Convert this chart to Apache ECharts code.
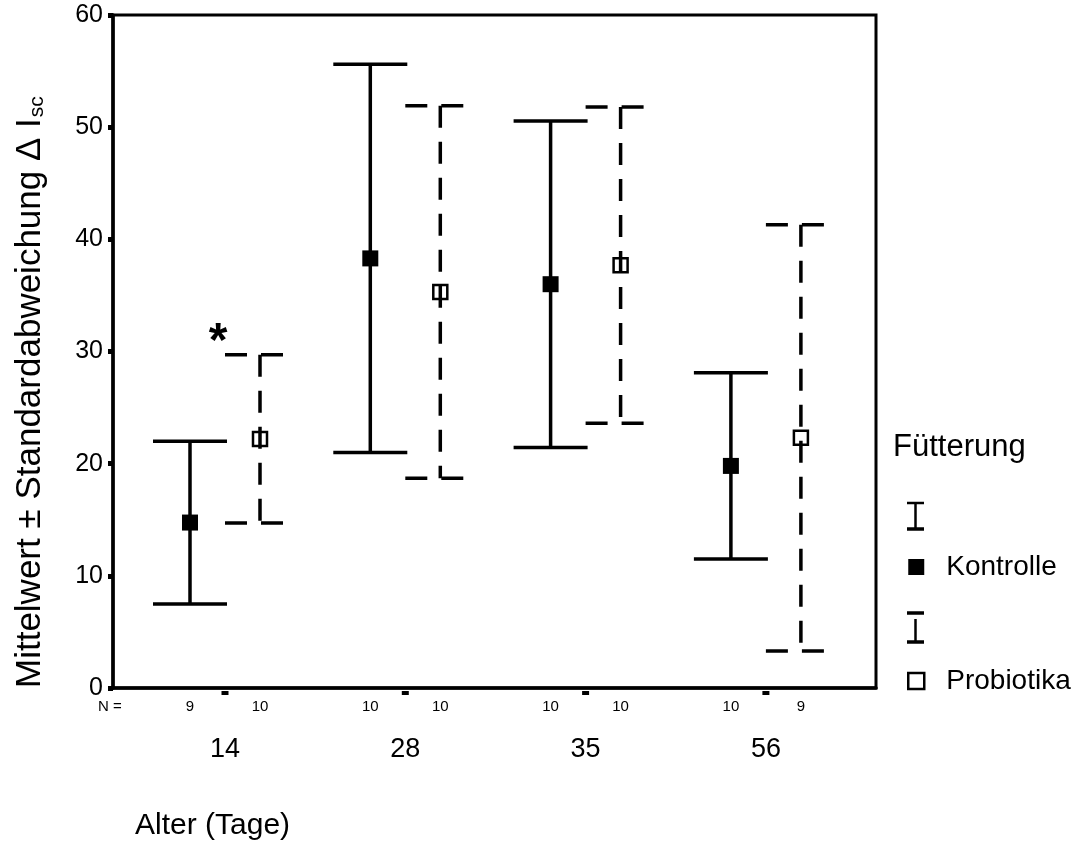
<!DOCTYPE html>
<html><head><meta charset="utf-8">
<script src="https://cdn.jsdelivr.net/npm/echarts@6/dist/echarts.min.js"></script>
<style>html,body{margin:0;padding:0;background:#fff}#c{width:1083px;height:851px}</style>
</head><body><div id="c"></div>
<script>
// ---- data ----
const ages = ['14', '28', '35', '56'];
const kontrolleMean = [14.75, 38.3, 36.0, 19.8];
const kontrolleSD = [7.25, 17.3, 14.55, 8.3];
const kontrolleN = [9, 10, 10, 10];
const probiotikaMean = [22.2, 35.3, 37.7, 22.3];
const probiotikaSD = [7.5, 16.6, 14.1, 19.0];
const probiotikaN = [10, 10, 10, 9];
const significance = ['*', '', '', ''];
const yTicks = [0, 10, 20, 30, 40, 50, 60];

// ---- styling ----
const FONT = '"Liberation Sans", Arial, sans-serif';
const DODGE = 35;   // px offset of each group member from category centre
const CAP = 37;     // half cap width px
const LW = 3.5;

function errSeries(name, means, sds, ns, dx, dashed) {
  return {
    type: 'custom', name: name, clip: false, z: 10,
    itemStyle: { color: dashed ? '#fff' : '#000', borderColor: '#000' },
    data: means.map((m, i) => [i, m, sds[i], ns[i]]),
    encode: { x: 0, y: 1 },
    renderItem: function (params, api) {
      const i = api.value(0), m = api.value(1), sd = api.value(2), n = api.value(3);
      const top = api.coord([i, m + sd]);
      const bot = api.coord([i, m - sd]);
      const mid = api.coord([i, m]);
      const base = api.coord([i, 0]);
      const x = mid[0] + dx;
      const ls = { stroke: '#000', lineWidth: LW, lineCap: 'butt', fill: 'none' };
      if (dashed) ls.lineDash = [22, 14];
      const children = [
        { type: 'line', shape: { x1: x - CAP + (dashed ? 2 : 0), y1: top[1], x2: x + CAP, y2: top[1] }, style: ls },
        { type: 'line', shape: { x1: x - CAP + (dashed ? 2 : 0), y1: bot[1], x2: x + CAP, y2: bot[1] }, style: ls },
        { type: 'line', shape: { x1: x, y1: top[1], x2: x, y2: bot[1] }, style: ls }
      ];
      if (dashed) {
        children.push({ type: 'rect', shape: { x: x - 7, y: mid[1] - 7, width: 14, height: 14 },
          style: { fill: 'none', stroke: '#000', lineWidth: 2.5 } });
      } else {
        children.push({ type: 'rect', shape: { x: x - 8, y: mid[1] - 8, width: 16, height: 16 },
          style: { fill: '#000' } });
      }
      children.push({ type: 'text', style: { text: String(n), x: x, y: base[1] + 19,
        align: 'center', verticalAlign: 'middle', fontSize: 15, fontFamily: FONT, fill: '#000' } });
      return { type: 'group', children: children };
    }
  };
}

const catSeries = {
  type: 'custom', name: 'Alter', clip: false, silent: true,
  data: ages.map((a, i) => [i, 0]),
  encode: { x: 0, y: 1 },
  renderItem: function (params, api) {
    const idx = params.dataIndex;
    const p = api.coord([api.value(0), 0]);
    const children = [
      { type: 'rect', shape: { x: p[0] - 3.5, y: p[1] + 3, width: 7, height: 4 }, style: { fill: '#000' } },
      { type: 'text', style: { text: ages[idx], x: p[0], y: p[1] + 62, align: 'center', verticalAlign: 'middle',
        fontSize: 27, fontFamily: FONT, fill: '#000' } }
    ];
    if (significance[idx]) {
      const t = api.coord([idx, probiotikaMean[idx] + probiotikaSD[idx]]);
      children.push({ type: 'text', style: { text: significance[idx], x: p[0] - 7, y: t[1] - 12,
        align: 'center', verticalAlign: 'middle', fontSize: 48, fontWeight: 'bold', fontFamily: FONT, fill: '#000' } });
    }
    return { type: 'group', children: children };
  }
};

const chart = echarts.init(document.getElementById('c'), null, { renderer: 'canvas' });
const gLeft = 113, gRight = 876, catX0 = 225, catStep = 180.3;
chart.setOption({
  backgroundColor: '#fff',
  animation: false,
  grid: { left: gLeft, right: 1083 - gRight, top: 15, bottom: 851 - 688,
    show: true, borderColor: '#000', borderWidth: 3, backgroundColor: 'transparent' },
  xAxis: {
    type: 'value', min: -(catX0 - gLeft) / catStep, max: (gRight - catX0) / catStep,
    axisLine: { show: true, onZero: false, lineStyle: { color: '#000', width: LW } },
    axisTick: { show: false }, axisLabel: { show: false }, splitLine: { show: false }
  },
  yAxis: {
    type: 'value', min: yTicks[0], max: yTicks[yTicks.length - 1], interval: 10,
    axisLine: { show: true, onZero: false, lineStyle: { color: '#000', width: LW } },
    axisTick: { show: true, length: 5, lineStyle: { color: '#000', width: 5 } },
    axisLabel: { color: '#000', fontSize: 25, fontFamily: FONT, margin: 10 },
    splitLine: { show: false }
  },
  legend: {
    orient: 'vertical', left: 907, top: 552, padding: 0,
    itemWidth: 16, itemHeight: 16, itemGap: 84,
    textStyle: { fontSize: 28, fontFamily: FONT, color: '#000', lineHeight: 30, padding: [0, 0, 0, 17] },
    data: [
      { name: 'Kontrolle', icon: 'rect', itemStyle: { color: '#000', borderWidth: 0 } },
      { name: 'Probiotika', icon: 'rect', itemStyle: { color: '#fff', borderColor: '#000', borderWidth: 2.5 } }
    ],
    selectedMode: false
  },
  graphic: [
    { type: 'text', x: 30, y: 688, rotation: Math.PI / 2,
      style: { text: 'Mittelwert ± Standardabweichung Δ I{sub|sc}', fontSize: 35, fontFamily: FONT, fill: '#000',
        align: 'left', verticalAlign: 'middle',
        rich: { sub: { fontSize: 21, fontFamily: FONT, lineHeight: 15, padding: [20, 0, 0, 1], verticalAlign: 'bottom' } } } },
    { type: 'text', x: 135, y: 826, style: { text: 'Alter (Tage)', fontSize: 30, fontFamily: FONT, fill: '#000',
        align: 'left', verticalAlign: 'middle' } },
    { type: 'text', x: 98, y: 707, style: { text: 'N =', fontSize: 15, fontFamily: FONT, fill: '#000',
        align: 'left', verticalAlign: 'middle' } },
    { type: 'text', x: 893, y: 447, style: { text: 'Fütterung', fontSize: 31, fontFamily: FONT, fill: '#000',
        align: 'left', verticalAlign: 'middle' } },
    // legend error-bar glyphs
    { type: 'line', shape: { x1: 907, y1: 503, x2: 924, y2: 503 }, style: { stroke: '#000', lineWidth: 2.5 } },
    { type: 'line', shape: { x1: 915.5, y1: 503, x2: 915.5, y2: 529 }, style: { stroke: '#000', lineWidth: 2.5 } },
    { type: 'line', shape: { x1: 907, y1: 529, x2: 924, y2: 529 }, style: { stroke: '#000', lineWidth: 3.5 } },
    { type: 'line', shape: { x1: 907, y1: 613, x2: 924, y2: 613 }, style: { stroke: '#000', lineWidth: 3.5 } },
    { type: 'line', shape: { x1: 915.5, y1: 619, x2: 915.5, y2: 642 }, style: { stroke: '#000', lineWidth: 2.5 } },
    { type: 'line', shape: { x1: 907, y1: 642, x2: 924, y2: 642 }, style: { stroke: '#000', lineWidth: 3.5 } }
  ],
  series: [
    errSeries('Kontrolle', kontrolleMean, kontrolleSD, kontrolleN, -DODGE, false),
    errSeries('Probiotika', probiotikaMean, probiotikaSD, probiotikaN, DODGE, true),
    catSeries
  ]
});
</script>
</body></html>
